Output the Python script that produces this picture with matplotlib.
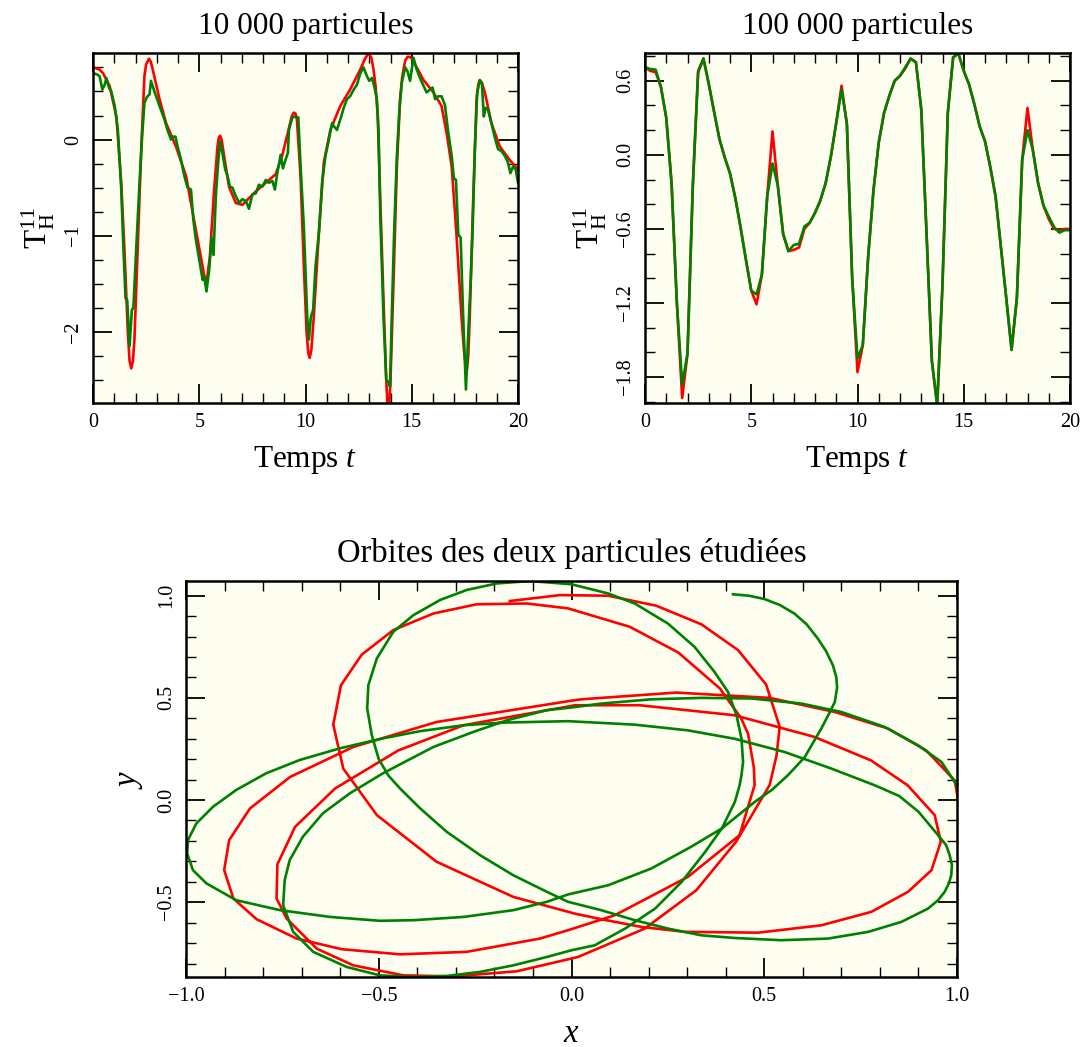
import matplotlib
matplotlib.use("Agg")
import matplotlib.pyplot as plt
from matplotlib.ticker import MultipleLocator, FixedLocator

plt.rcParams['font.family'] = ['Liberation Serif', 'DejaVu Serif']
plt.rcParams['mathtext.fontset'] = 'custom'
plt.rcParams['mathtext.rm'] = 'Liberation Serif'
plt.rcParams['mathtext.it'] = 'Liberation Serif:italic'
plt.rcParams['axes.unicode_minus'] = True

# ---------------- data: 10 000 particules ----------------
t_red_10k = [0.0, 0.3, 0.47, 0.78, 1.1, 1.33, 1.48, 1.64, 1.72, 1.8, 1.88, 1.95, 2.1, 2.27, 2.42,
             2.5, 2.63, 2.72, 2.81, 3.13, 3.44, 3.9, 4.38, 4.84, 5.16, 5.25, 5.31, 5.38, 5.5, 5.7,
             5.86, 5.92, 5.98, 6.05, 6.17, 6.4, 6.72, 7.03, 7.34, 7.66, 8.13, 8.6, 8.9, 9.2, 9.35,
             9.45, 9.53, 9.6, 9.77, 9.92, 10.05, 10.13, 10.2, 10.28, 10.39, 10.63, 10.86, 11.17,
             11.64, 12.1, 12.58, 12.8, 12.97, 13.1, 13.2, 13.3, 13.4, 13.52, 13.67, 13.8, 13.9,
             14.0, 14.14, 14.3, 14.45, 14.55, 14.69, 14.8, 14.92, 15.05, 15.16, 15.55, 16.02, 16.4,
             16.64, 16.88, 17.1, 17.34, 17.46, 17.58, 17.66, 17.73, 17.89, 18.05, 18.13, 18.2,
             18.3, 18.44, 18.75, 19.14, 19.6, 20.0]
v_red_10k = [0.75, 0.73, 0.69, 0.56, 0.24, -0.45, -1.15, -2.01, -2.30, -2.38, -2.30, -2.08, -1.15,
             -0.10, 0.66, 0.78, 0.84, 0.81, 0.73, 0.42, 0.17, -0.07, -0.38, -0.94, -1.32, -1.44,
             -1.49, -1.42, -1.22, -0.52, -0.07, 0.02, 0.04, 0.00, -0.17, -0.49, -0.66, -0.68,
             -0.61, -0.54, -0.45, -0.36, -0.17, 0.10, 0.24, 0.28, 0.27, 0.20, -0.40, -1.30, -2.00,
             -2.22, -2.27, -2.18, -1.84, -0.97, -0.24, 0.10, 0.35, 0.52, 0.73, 0.84, 0.90, 0.85,
             0.73, 0.55, 0.24, -0.63, -1.67, -2.50, -2.95, -2.50, -1.49, -0.28, 0.42, 0.65, 0.82,
             0.86, 0.86, 0.83, 0.78, 0.62, 0.49, 0.35, 0.07, -0.28, -0.97, -1.84, -2.20, -2.43,
             -2.25, -1.84, -0.63, 0.42, 0.57, 0.62, 0.59, 0.49, 0.17, -0.07, -0.21, -0.31]

t_green_10k = [0.0, 0.16, 0.31, 0.44, 0.55, 0.63, 0.75, 0.86, 1.02, 1.17, 1.33, 1.41, 1.53, 1.61,
               1.72, 1.83, 1.9, 2.03, 2.19, 2.31, 2.42, 2.53, 2.66, 2.73, 2.89, 3.13, 3.36, 3.52,
               3.67, 3.75, 3.88, 3.98, 4.14, 4.3, 4.45, 4.61, 4.72, 4.84, 5.0, 5.16, 5.23, 5.34,
               5.47, 5.58, 5.67, 5.78, 5.89, 5.98, 6.09, 6.22, 6.33, 6.44, 6.56, 6.72, 6.88, 7.03,
               7.19, 7.34, 7.5, 7.66, 7.81, 7.97, 8.13, 8.28, 8.44, 8.56, 8.67, 8.83, 8.94, 9.06,
               9.17, 9.22, 9.38, 9.53, 9.66, 9.77, 9.92, 10.08, 10.16, 10.25, 10.36, 10.47, 10.63,
               10.78, 10.94, 11.1, 11.25, 11.33, 11.48, 11.64, 11.8, 11.95, 12.1, 12.27, 12.42,
               12.58, 12.73, 12.89, 13.0, 13.13, 13.23, 13.36, 13.44, 13.52, 13.67, 13.8, 13.9,
               13.98, 14.06, 14.17, 14.3, 14.42, 14.53, 14.69, 14.8, 14.92, 15.08, 15.23, 15.39,
               15.55, 15.7, 15.86, 15.98, 16.1, 16.25, 16.4, 16.56, 16.72, 16.88, 16.98, 17.08,
               17.19, 17.3, 17.42, 17.55, 17.66, 17.77, 17.86, 17.97, 18.08, 18.2, 18.3, 18.39,
               18.48, 18.59, 18.75, 18.91, 19.06, 19.22, 19.38, 19.53, 19.64, 19.77, 19.89, 20.0]
v_green_10k = [0.69, 0.68, 0.66, 0.52, 0.57, 0.64, 0.54, 0.50, 0.35, 0.10, -0.52, -1.01, -1.65,
               -1.67, -2.15, -1.77, -1.75, -1.15, -0.45, 0.03, 0.38, 0.44, 0.47, 0.61, 0.50, 0.35,
               0.21, 0.09, 0.00, 0.03, 0.03, -0.07, -0.21, -0.38, -0.50, -0.52, -0.83, -1.04, -1.25,
               -1.46, -1.42, -1.58, -1.35, -1.02, -1.20, -0.59, -0.24, -0.02, -0.14, -0.31, -0.38,
               -0.49, -0.50, -0.59, -0.66, -0.62, -0.64, -0.72, -0.57, -0.56, -0.47, -0.49, -0.42,
               -0.45, -0.43, -0.52, -0.35, -0.16, -0.30, -0.21, -0.14, 0.10, 0.23, 0.24, 0.23,
               -0.28, -0.90, -1.84, -2.08, -1.85, -1.77, -1.32, -0.97, -0.45, -0.17, 0.00, 0.17,
               0.14, 0.10, 0.21, 0.33, 0.42, 0.45, 0.52, 0.57, 0.69, 0.75, 0.66, 0.61, 0.64, 0.56,
               0.42, 0.07, -0.80, -1.84, -2.50, -2.52, -2.57, -1.84, -0.97, -0.17, 0.31, 0.59, 0.75,
               0.71, 0.61, 0.85, 0.73, 0.64, 0.56, 0.49, 0.52, 0.54, 0.42, 0.45, 0.45, 0.36, 0.07,
               -0.17, -0.40, -0.42, -0.99, -1.02, -1.84, -2.60, -2.01, -1.49, -0.97, -0.10, 0.49,
               0.61, 0.59, 0.24, 0.33, 0.31, 0.17, 0.02, -0.10, -0.12, -0.17, -0.24, -0.35, -0.28,
               -0.31, -0.45]

# ---------------- data: 100 000 particules ----------------
t_100k = [0.0, 0.25, 0.5, 0.75, 1.0, 1.25, 1.5, 1.75, 2.0, 2.25, 2.5, 2.75, 3.0, 3.25, 3.5, 3.75,
          4.0, 4.25, 4.5, 4.75, 5.0, 5.25, 5.5, 5.75, 6.0, 6.25, 6.5, 6.75, 7.0, 7.25, 7.5, 7.75,
          8.0, 8.25, 8.5, 8.75, 9.0, 9.25, 9.5, 9.75, 10.0, 10.25, 10.5, 10.75, 11.0, 11.25, 11.5,
          11.75, 12.0, 12.25, 12.5, 12.75, 13.0, 13.25, 13.5, 13.75, 14.0, 14.25, 14.5, 14.75,
          15.0, 15.25, 15.5, 15.75, 16.0, 16.25, 16.5, 16.75, 17.0, 17.25, 17.5, 17.75, 18.0,
          18.25, 18.5, 18.75, 19.0, 19.25, 19.5, 19.75, 20.0]
v_green_100k = [0.71, 0.695, 0.69, 0.55, 0.30, -0.23, -1.20, -1.86, -1.61, -0.25, 0.665, 0.78,
                0.575, 0.35, 0.13, -0.02, -0.15, -0.35, -0.59, -0.85, -1.10, -1.13, -0.97, -0.34,
                -0.07, -0.25, -0.64, -0.78, -0.73, -0.72, -0.58, -0.55, -0.47, -0.37, -0.23, -0.01,
                0.26, 0.53, 0.25, -1.00, -1.65, -1.54, -0.83, -0.29, 0.10, 0.34, 0.48, 0.60, 0.64,
                0.71, 0.78, 0.75, 0.37, -0.64, -1.67, -2.03, -1.05, 0.34, 0.79, 0.82, 0.68, 0.57,
                0.41, 0.23, 0.11, -0.10, -0.34, -0.75, -1.16, -1.58, -1.16, -0.04, 0.20, 0.04, -0.23,
                -0.41, -0.50, -0.585, -0.63, -0.61, -0.61]
v_red_100k = [0.71, 0.68, 0.67, 0.55, 0.30, -0.23, -1.20, -1.97, -1.61, -0.25, 0.68, 0.78,
              0.575, 0.35, 0.13, -0.02, -0.15, -0.35, -0.59, -0.85, -1.10, -1.21, -0.97, -0.34,
              0.19, -0.25, -0.64, -0.78, -0.77, -0.75, -0.60, -0.55, -0.47, -0.37, -0.23, -0.01,
              0.26, 0.56, 0.25, -1.00, -1.76, -1.54, -0.83, -0.29, 0.10, 0.34, 0.48, 0.60, 0.64,
              0.70, 0.78, 0.75, 0.37, -0.64, -1.67, -2.03, -1.05, 0.34, 0.79, 0.82, 0.68, 0.57,
              0.41, 0.23, 0.11, -0.10, -0.34, -0.75, -1.16, -1.58, -1.16, -0.04, 0.38, 0.04, -0.23,
              -0.41, -0.52, -0.60, -0.61, -0.60, -0.60]

# ---------------- data: orbites ----------------
x_red_orbit = [-0.16, -0.03, 0.095, 0.22, 0.337, 0.432, 0.505, 0.54, 0.532, 0.514, 0.427, 0.324,
               0.19, 0.017, -0.142, -0.307, -0.436, -0.566, -0.661, -0.739, -0.765, -0.763, -0.717,
               -0.613, -0.449, -0.28, 0.009, 0.177, 0.423, 0.63, 0.777, 0.872, 0.942, 0.958, 0.934,
               0.873, 0.778, 0.648, 0.484, 0.294, 0.181, 0.077, 0.009, -0.151, -0.35, -0.505,
               -0.592, -0.618, -0.598, -0.544, -0.462, -0.358, -0.246, -0.116, -0.009, 0.151, 0.277,
               0.385, 0.44, 0.458, 0.473, 0.475, 0.436, 0.302, 0.112, -0.009, -0.082, -0.272, -0.445,
               -0.596, -0.713, -0.817, -0.877, -0.901, -0.888, -0.834, -0.73, -0.566, -0.35, 0.009,
               0.026, 0.272, 0.514, 0.683, 0.821, 0.92, 0.994, 1.003]
y_red_orbit = [0.974, 1.003, 1.0, 0.951, 0.86, 0.734, 0.565, 0.358, 0.219, 0.0735, -0.204, -0.441,
               -0.629, -0.768, -0.838, -0.863, -0.858, -0.809, -0.727, -0.58, -0.482, -0.315,
               -0.131, 0.057, 0.243, 0.366, 0.464, 0.464, 0.415, 0.309, 0.194, 0.072, -0.0735,
               -0.204, -0.343, -0.449, -0.547, -0.613, -0.649, -0.645, -0.621, -0.583, -0.556,
               -0.474, -0.302, -0.0735, 0.154, 0.369, 0.562, 0.712, 0.832, 0.913, 0.958, 0.962,
               0.938, 0.848, 0.722, 0.546, 0.40, 0.325, 0.16, 0.0735, -0.172, -0.376, -0.564,
               -0.637, -0.678, -0.743, -0.755, -0.73, -0.678, -0.583, -0.482, -0.343, -0.196,
               -0.041, 0.113, 0.26, 0.382, 0.489, 0.493, 0.526, 0.50, 0.431, 0.35, 0.243, 0.096,
               0.0]

x_green_orbit = [0.419, 0.46, 0.50, 0.54, 0.578, 0.61, 0.639, 0.66, 0.678, 0.687, 0.689, 0.683,
                 0.67, 0.648, 0.605, 0.562, 0.52, 0.476, 0.39, 0.31, 0.207, 0.095, -0.009, -0.064,
                 -0.151, -0.28, -0.41, -0.497, -0.626, -0.756, -0.870, -0.947, -0.982, -0.997,
                 -0.995, -0.973, -0.930, -0.870, -0.792, -0.705, -0.601, -0.489, -0.393, -0.28,
                 -0.177, -0.099, -0.009, 0.164, 0.302, 0.423, 0.553, 0.674, 0.735, 0.787, 0.85, 0.90,
                 0.951, 0.972, 0.981, 0.987, 0.985, 0.979, 0.968, 0.951, 0.925, 0.856, 0.77, 0.665,
                 0.544, 0.423, 0.337, 0.25, 0.164, 0.077, -0.009, -0.064, -0.151, -0.237, -0.324,
                 -0.393, -0.445, -0.475, -0.50, -0.518, -0.53, -0.527, -0.505, -0.462, -0.41,
                 -0.341, -0.272, -0.194, -0.108, 0.0, 0.095, 0.164, 0.25, 0.319, 0.371, 0.406,
                 0.428, 0.441, 0.445, 0.441, 0.436, 0.424, 0.39, 0.347, 0.286, 0.217, 0.139, 0.06,
                 0.0, -0.064, -0.151, -0.237, -0.324, -0.41, -0.497, -0.583, -0.67, -0.722, -0.748,
                 -0.744, -0.731, -0.697, -0.645, -0.575, -0.489, -0.358, -0.255, -0.168, -0.064, 0.0,
                 0.077, 0.207, 0.337, 0.467, 0.597, 0.70, 0.812, 0.899, 0.96, 0.994, 1.01]
y_green_orbit = [1.007, 1.0, 0.984, 0.955, 0.913, 0.86, 0.79, 0.73, 0.66, 0.60, 0.55, 0.48,
                 0.43, 0.35, 0.21, 0.1225, 0.05, -0.008, -0.139, -0.229, -0.335, -0.417, -0.462,
                 -0.498, -0.539, -0.572, -0.588, -0.591, -0.572, -0.539, -0.49, -0.408, -0.343,
                 -0.261, -0.196, -0.114, -0.033, 0.049, 0.131, 0.196, 0.253, 0.302, 0.337, 0.366,
                 0.379, 0.382, 0.386, 0.369, 0.341, 0.30, 0.235, 0.154, 0.11, 0.072, 0.02, -0.057,
                 -0.172, -0.221, -0.27, -0.319, -0.368, -0.408, -0.449, -0.49, -0.531, -0.596,
                 -0.645, -0.678, -0.686, -0.675, -0.662, -0.629, -0.588, -0.539, -0.498, -0.449,
                 -0.368, -0.27, -0.155, -0.04, 0.057, 0.12, 0.20, 0.317, 0.448, 0.562, 0.693, 0.824,
                 0.905, 0.979, 1.028, 1.06, 1.072, 1.056, 1.011, 0.962, 0.864, 0.75, 0.627, 0.529,
                 0.415, 0.30, 0.186, 0.1225, 0.072, -0.008, -0.139, -0.253, -0.40, -0.531, -0.629,
                 -0.711, -0.735, -0.768, -0.809, -0.841, -0.861, -0.866, -0.858, -0.817, -0.743,
                 -0.645, -0.515, -0.392, -0.294, -0.18, -0.065, 0.033, 0.131, 0.26, 0.333, 0.39,
                 0.44, 0.453, 0.472, 0.493, 0.50, 0.497, 0.472, 0.431, 0.358, 0.268, 0.186, 0.088,
                 0.03]

# ---------------- styling ----------------
BG = '#fefef0'
RED = '#ff0000'
GREEN = '#008000'
LW = 1.9
TITLE_FS = 22.5
LABEL_FS = 22.5
TICK_FS = 14.5

W, H = 1082, 1047
fig = plt.figure(figsize=(W / 100, H / 100), dpi=100)


def style(ax, xmin, ymin):
    ax.set_facecolor(BG)
    for s in ax.spines.values():
        s.set_linewidth(1.8)
    ax.tick_params(which='both', direction='in', top=True, right=True, labelsize=TICK_FS)
    ax.tick_params(which='major', length=14, width=1.3)
    ax.tick_params(which='minor', length=7, width=1.0)
    ax.tick_params(axis='x', pad=7)
    ax.tick_params(axis='y', pad=7)
    ax.xaxis.set_minor_locator(MultipleLocator(xmin))
    ax.yaxis.set_minor_locator(MultipleLocator(ymin))


ax1 = fig.add_axes([93 / W, 1 - 403 / H, 425 / W, 350 / H])
ax1.plot(t_red_10k, v_red_10k, color=RED, lw=LW)
ax1.plot(t_green_10k, v_green_10k, color=GREEN, lw=LW)
ax1.set_xlim(0, 20)
ax1.set_ylim(-2.74, 0.90)
ax1.xaxis.set_major_locator(MultipleLocator(5))
ax1.yaxis.set_major_locator(MultipleLocator(1))
style(ax1, 1, 0.25)
ax1.set_title('10 000 particules', fontsize=TITLE_FS, pad=14)
ax1.set_xlabel('Temps $t$', fontsize=LABEL_FS, labelpad=9)
ax1.set_ylabel(r'$\mathrm{T}_{\mathrm{H}}^{11}$', fontsize=LABEL_FS, labelpad=5)

ax2 = fig.add_axes([645 / W, 1 - 403 / H, 425 / W, 350 / H])
ax2.plot(t_100k, v_red_100k, color=RED, lw=LW)
ax2.plot(t_100k, v_green_100k, color=GREEN, lw=LW)
ax2.set_xlim(0, 20)
ax2.set_ylim(-2.01, 0.825)
ax2.xaxis.set_major_locator(MultipleLocator(5))
ax2.yaxis.set_major_locator(FixedLocator([-1.8, -1.2, -0.6, 0.0, 0.6]))
style(ax2, 1, 0.2)
ax2.set_title('100 000 particules', fontsize=TITLE_FS, pad=14)
ax2.set_xlabel('Temps $t$', fontsize=LABEL_FS, labelpad=9)
ax2.set_ylabel(r'$\mathrm{T}_{\mathrm{H}}^{11}$', fontsize=LABEL_FS, labelpad=5)

ax3 = fig.add_axes([186 / W, 1 - 977 / H, 771 / W, 396 / H])
ax3.plot(x_red_orbit, y_red_orbit, color=RED, lw=LW)
ax3.plot(x_green_orbit, y_green_orbit, color=GREEN, lw=LW)
ax3.set_xlim(-1, 1)
ax3.set_ylim(-0.866, 1.072)
ax3.xaxis.set_major_locator(MultipleLocator(0.5))
ax3.yaxis.set_major_locator(MultipleLocator(0.5))
style(ax3, 0.1, 0.1)
ax3.set_title('Orbites des deux particules étudiées', fontsize=23.5, pad=14)
ax3.set_xlabel('$x$', fontsize=LABEL_FS + 1, labelpad=9)
ax3.set_ylabel('$y$', fontsize=LABEL_FS + 1, labelpad=9)

for ax in (ax1, ax2, ax3):
    plt.setp(ax.get_yticklabels(), rotation=90, va='center')

fig.savefig('out.png', dpi=100, facecolor='white')
